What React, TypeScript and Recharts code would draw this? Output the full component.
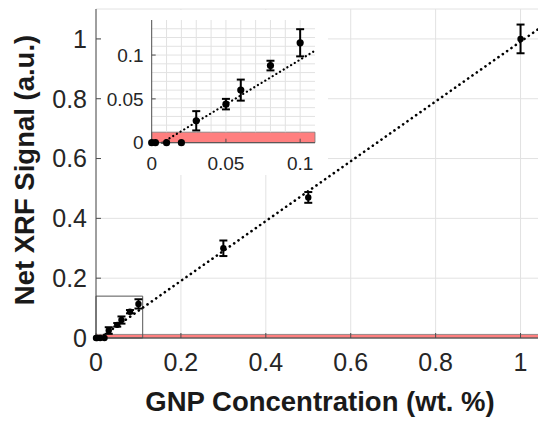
import React from "react";
import {
  ComposedChart,
  Scatter,
  XAxis,
  YAxis,
  CartesianGrid,
  ErrorBar,
  ReferenceArea,
  ReferenceLine,
  Label,
} from "recharts";

// ---- data ----
const concentration = [0, 0.0025, 0.01, 0.02, 0.03, 0.05, 0.06, 0.08, 0.1, 0.3, 0.5, 1.0];
const signal = [0, 0, 0, 0, 0.025, 0.044, 0.06, 0.088, 0.114, 0.3, 0.47, 1.0];
const errors = [0, 0, 0, 0, 0.011, 0.006, 0.012, 0.0055, 0.0155, 0.026, 0.018, 0.048];

const mainXTicks = [0, 0.2, 0.4, 0.6, 0.8, 1];
const mainYTicks = [0, 0.2, 0.4, 0.6, 0.8, 1];
const mainDomain = [0, 1.1];

const insetXTicks = [0, 0.05, 0.1];
const insetYTicks = [0, 0.05, 0.1];
const insetXDomain = [0, 0.11];
const insetYDomain = [0, 0.14];
const insetMinorX = [0.01, 0.02, 0.03, 0.04, 0.05, 0.06, 0.07, 0.08, 0.09, 0.1];
const insetMinorY = [0.02, 0.03, 0.04, 0.05, 0.06, 0.07, 0.08, 0.09, 0.1, 0.11, 0.12, 0.13];

const noiseBand = [0, 0.012];
const zoomBoxX = [0, 0.11];
const zoomBoxY = [0, 0.14];

const fitMain = [
  { x: 0.009, y: 0 },
  { x: 1.1, y: 1.091 },
];
const fitInset = [
  { x: 0.007, y: 0 },
  { x: 0.11, y: 0.105 },
];

const points = concentration.map((x, i) => ({ x, y: signal[i], err: errors[i] }));
const insetPoints = points.filter((p) => p.x <= 0.11);

const FONT = "'Liberation Sans', Arial, Helvetica, sans-serif";
const AXIS = "#4d4d4d";
const TICK = "#262626";
const MINOR = "#e2e2e2";

const dot = (r: number) => (props: any) =>
  <circle cx={props.cx} cy={props.cy} r={r} fill="#000" />;

export default function App() {
  return (
    <div
      style={{
        position: "fixed",
        left: 0,
        top: 0,
        width: 538,
        height: 422,
        overflow: "hidden",
        background: "#fff",
      }}
    >
      <div style={{ position: "absolute", left: 0, top: 0 }}>
        <ComposedChart
          width={575}
          height={422}
          margin={{ top: 9, right: 12, left: 0, bottom: 0 }}
          style={{ fontFamily: FONT }}
        >
          <CartesianGrid stroke="#e2e2e2" strokeWidth={1} />
          <XAxis
            dataKey="x"
            type="number"
            domain={mainDomain}
            ticks={mainXTicks}
            height={84}
            stroke={AXIS}
            tickSize={-5}
            tickMargin={20}
            tick={{ fontSize: 25, fill: TICK, fontFamily: FONT }}
            interval={0}
          >
            <Label
              content={() => (
                <text
                  x={320}
                  y={411}
                  textAnchor="middle"
                  fontSize={27.5}
                  fontWeight="bold"
                  fontFamily={FONT}
                  fill="#1a1a1a"
                >
                  GNP Concentration (wt. %)
                </text>
              )}
            />
          </XAxis>
          <XAxis
            xAxisId="top"
            orientation="top"
            type="number"
            domain={mainDomain}
            ticks={mainXTicks}
            height={0}
            stroke={AXIS}
            tickSize={-5}
            tick={false}
          />
          <YAxis
            dataKey="y"
            type="number"
            domain={mainDomain}
            ticks={mainYTicks}
            width={96}
            stroke={AXIS}
            tickSize={-5}
            tickMargin={14}
            tick={{ fontSize: 25, fill: TICK, fontFamily: FONT }}
            interval={0}
          >
            <Label
              content={() => (
                <text
                  x={34}
                  y={170}
                  transform="rotate(-90 34 170)"
                  textAnchor="middle"
                  fontSize={27.5}
                  fontWeight="bold"
                  fontFamily={FONT}
                  fill="#1a1a1a"
                >
                  Net XRF Signal (a.u.)
                </text>
              )}
            />
          </YAxis>
          <ReferenceArea
            x1={mainDomain[0]}
            x2={mainDomain[1]}
            y1={noiseBand[0]}
            y2={noiseBand[1]}
            fill="#ff7f7f"
            fillOpacity={1}
            stroke="#7a7a7a"
            strokeWidth={0.8}
            ifOverflow="visible"
          />
          <ReferenceArea
            x1={zoomBoxX[0]}
            x2={zoomBoxX[1]}
            y1={zoomBoxY[0]}
            y2={zoomBoxY[1]}
            fill="none"
            fillOpacity={0}
            stroke="#555"
            strokeWidth={1}
            ifOverflow="visible"
          />
          <ReferenceLine
            segment={fitMain}
            stroke="#000"
            strokeWidth={2.6}
            strokeDasharray="0.1 5.2"
            strokeLinecap="round"
            ifOverflow="visible"
          />
          <Scatter data={points} shape={dot(3.2)} isAnimationActive={false}>
            <ErrorBar dataKey="err" direction="y" width={4} stroke="#000" strokeWidth={2} />
          </Scatter>
        </ComposedChart>
      </div>

      <div
        style={{
          position: "absolute",
          left: 101,
          top: 10,
          width: 227,
          height: 165,
          background: "#fff",
        }}
      >
        <ComposedChart
          width={227}
          height={165}
          margin={{ top: 10, right: 13, left: 0, bottom: 0 }}
          style={{ fontFamily: FONT }}
        >
          {insetMinorX.map((v) => (
            <ReferenceLine
              key={"gx" + v}
              segment={[
                { x: v, y: noiseBand[1] },
                { x: v, y: insetYDomain[1] },
              ]}
              stroke={MINOR}
              strokeWidth={1}
              ifOverflow="visible"
            />
          ))}
          {insetMinorY.map((v) => (
            <ReferenceLine key={"gy" + v} y={v} stroke={MINOR} strokeWidth={1} />
          ))}
          <XAxis
            dataKey="x"
            type="number"
            domain={insetXDomain}
            ticks={insetXTicks}
            height={32.3}
            stroke={AXIS}
            tickSize={-4}
            tickMargin={18}
            tick={{ fontSize: 19, fill: TICK, fontFamily: FONT }}
            interval={0}
          />
          <XAxis
            xAxisId="top"
            orientation="top"
            type="number"
            domain={insetXDomain}
            ticks={insetXTicks}
            height={0}
            stroke={AXIS}
            tickSize={-4}
            tick={false}
          />
          <YAxis
            dataKey="y"
            type="number"
            domain={insetYDomain}
            ticks={insetYTicks}
            width={50.7}
            stroke={AXIS}
            tickSize={-4}
            tickMargin={12}
            tick={{ fontSize: 19, fill: TICK, fontFamily: FONT }}
            interval={0}
          />
          <YAxis
            yAxisId="right"
            orientation="right"
            type="number"
            domain={insetYDomain}
            ticks={insetYTicks}
            width={0}
            stroke={AXIS}
            tickSize={-4}
            tick={false}
          />
          <ReferenceArea
            x1={insetXDomain[0]}
            x2={insetXDomain[1]}
            y1={noiseBand[0]}
            y2={noiseBand[1]}
            fill="#ff7f7f"
            fillOpacity={1}
            stroke="#7a7a7a"
            strokeWidth={0.8}
            ifOverflow="visible"
          />
          <ReferenceLine
            segment={fitInset}
            stroke="#000"
            strokeWidth={2.2}
            strokeDasharray="0.1 4.2"
            strokeLinecap="round"
            ifOverflow="visible"
          />
          <Scatter data={insetPoints} shape={dot(3.6)} isAnimationActive={false}>
            <ErrorBar dataKey="err" direction="y" width={4} stroke="#000" strokeWidth={2} />
          </Scatter>
        </ComposedChart>
      </div>
    </div>
  );
}
